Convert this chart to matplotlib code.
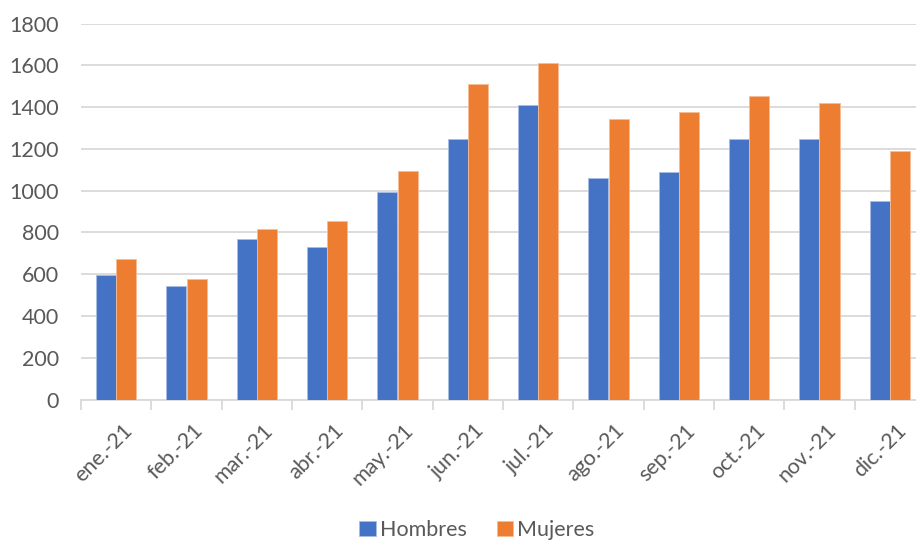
import numpy as np
import matplotlib
matplotlib.use("Agg")
import matplotlib.pyplot as plt
import matplotlib.transforms as mtransforms

# Datos
meses = ["ene.-21", "feb.-21", "mar.-21", "abr.-21", "may.-21", "jun.-21",
         "jul.-21", "ago.-21", "sep.-21", "oct.-21", "nov.-21", "dic.-21"]
hombres = [597, 544, 768, 729, 996, 1250, 1410, 1063, 1089, 1246, 1249, 952]
mujeres = [672, 578, 816, 855, 1093, 1510, 1610, 1343, 1375, 1456, 1418, 1188]

azul = "#4472C4"
naranja = "#ED7D31"
gris_texto = "#595959"
gris_linea = "#D9D9D9"

plt.rcParams["font.family"] = ["Lato", "DejaVu Sans"]

fig = plt.figure(figsize=(9.16, 5.42), dpi=100)
ax = fig.add_axes([81 / 916, (542 - 399.5) / 542, 844 / 916, (399.5 - 23.7) / 542])

x = np.arange(len(meses))
ancho = 0.285
ax.bar(x - ancho / 2, hombres, ancho, color=azul, edgecolor="#a9bde6",
       linewidth=0.6, label="Hombres", zorder=3)
ax.bar(x + ancho / 2, mujeres, ancho, color=naranja, edgecolor="#f6bd96",
       linewidth=0.6, label="Mujeres", zorder=3)

ax.set_xlim(-0.5, len(meses) - 0.5)
ax.set_ylim(0, 1800)
ax.set_yticks(range(0, 1801, 200))
ax.yaxis.grid(True, color=gris_linea, linewidth=1.3, zorder=0)

for s in ["top", "right", "left"]:
    ax.spines[s].set_visible(False)
ax.spines["bottom"].set_color(gris_linea)
ax.spines["bottom"].set_linewidth(1.3)

ax.set_xticks(x)
ax.set_xticklabels(meses, rotation=45, ha="right", rotation_mode="anchor")
ax.set_xticks(np.arange(-0.5, len(meses), 1), minor=True)
ax.tick_params(axis="x", which="major", length=0, pad=15, labelsize=15.5,
               labelcolor=gris_texto)
ax.tick_params(axis="x", which="minor", length=7, width=1.3, color=gris_linea)
ax.tick_params(axis="y", length=0, pad=16, labelsize=15.5, labelcolor=gris_texto)

# desplazar un poco las etiquetas del eje x a la derecha
desplazamiento = mtransforms.ScaledTranslation(6 / 100, 0, fig.dpi_scale_trans)
for etiqueta in ax.get_xticklabels():
    etiqueta.set_transform(etiqueta.get_transform() + desplazamiento)

fig.legend(loc="center", bbox_to_anchor=(477 / 916, 1 - 530 / 542), ncol=2,
           frameon=False, fontsize=15.5, handlelength=0.75, handleheight=0.75,
           handletextpad=0.2, columnspacing=1.4, labelcolor=gris_texto)

fig.savefig("out.png", dpi=100)
